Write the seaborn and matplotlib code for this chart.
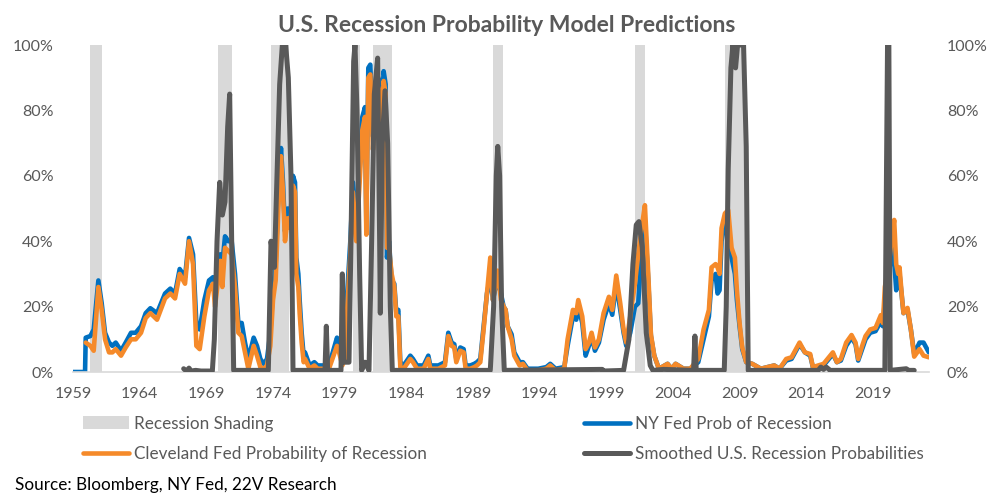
import numpy as np
import pandas as pd
import matplotlib
matplotlib.use("Agg")
import matplotlib.pyplot as plt
from matplotlib.patches import Patch
from matplotlib.lines import Line2D
from matplotlib.ticker import PercentFormatter
import seaborn as sns

# --- data (decimal years, percent) ---
years = [
    1959.0, 1959.9, 1959.95, 1960.3, 1960.55, 1960.9, 1961.15, 1961.4, 1961.7, 1961.95,
    1962.2, 1962.6, 1962.95, 1963.35, 1963.7, 1964.1, 1964.45, 1964.8, 1965.3, 1965.9,
    1966.3, 1966.65, 1967.0, 1967.4, 1967.7, 1968.0, 1968.25, 1968.5, 1968.85, 1969.2,
    1969.5, 1969.65, 1970.05, 1970.2, 1970.4, 1970.65, 1970.9, 1971.15, 1971.4, 1971.65,
    1971.9, 1972.15, 1972.55, 1972.8, 1973.05, 1973.3, 1973.55, 1973.8, 1974.0, 1974.2,
    1974.4, 1974.6, 1974.75, 1974.9, 1975.1, 1975.3, 1975.5, 1975.65, 1975.75, 1975.9,
    1976.0, 1976.15, 1976.3, 1976.4, 1976.75, 1977.1, 1977.35, 1977.8, 1978.2, 1978.8,
    1978.9, 1979.2, 1979.4, 1979.55, 1979.8, 1980.0, 1980.25, 1980.5, 1980.7, 1980.9,
    1981.0, 1981.15, 1981.3, 1981.5, 1981.7, 1981.9, 1982.1, 1982.3, 1982.45, 1982.55,
    1982.7, 1982.9, 1983.1, 1983.25, 1983.4, 1983.55, 1983.8, 1984.3, 1984.5, 1984.8,
    1985.3, 1985.65, 1985.8, 1986.4, 1986.9, 1987.15, 1987.4, 1987.6, 1987.75, 1988.05,
    1988.3, 1988.45, 1988.8, 1989.1, 1989.3, 1989.55, 1989.8, 1990.05, 1990.3, 1990.5,
    1990.7, 1990.85, 1991.1, 1991.3, 1991.45, 1991.6, 1991.9, 1992.1, 1992.5, 1992.75,
    1993.1, 1993.9, 1994.5, 1994.8, 1995.2, 1995.85, 1996.1, 1996.5, 1996.75, 1996.9,
    1997.2, 1997.45, 1997.7, 1997.9, 1998.15, 1998.45, 1998.8, 1999.2, 1999.45, 1999.75,
    2000.05, 2000.3, 2000.5, 2000.8, 2001.15, 2001.4, 2001.65, 2001.9, 2002.15, 2002.35,
    2002.6, 2002.95, 2003.6, 2003.9, 2004.2, 2004.8, 2005.3, 2005.9, 2006.3, 2006.7,
    2006.9, 2007.2, 2007.35, 2007.5, 2007.65, 2007.9, 2008.15, 2008.4, 2008.65, 2008.8,
    2009.0, 2009.2, 2009.5, 2009.95, 2010.6, 2011.1, 2011.6, 2012.0, 2012.5, 2012.9,
    2013.1, 2013.5, 2013.9, 2014.3, 2014.5, 2015.3, 2015.6, 2016.0, 2016.3, 2016.6,
    2017.0, 2017.4, 2017.7, 2017.9, 2018.2, 2018.45, 2018.8, 2019.2, 2019.6, 2019.75,
    2019.9, 2020.2, 2020.45, 2020.6, 2020.75, 2020.9, 2021.0, 2021.2, 2021.3, 2021.6,
    2021.85, 2022.1, 2022.5, 2022.8, 2023.2,
]
ny_fed = [
    0, 0, 10.5, 11, 13, 28, 21, 12, 9, 8,
    9, 6.5, 9, 12, 12, 14, 18, 19.5, 18, 24,
    25.5, 24, 31.5, 29, 41, 36, 15, 13, 22, 28,
    29, 24, 36, 33, 41.5, 40, 40, 30, 15, 15,
    9, 4, 10.5, 8, 4, 2.5, 4, 12, 25, 33,
    55, 68.5, 58, 43, 50, 47, 60, 58, 35, 30,
    22, 12, 5, 6, 2, 3, 2, 2, 2, 10.5,
    9, 4, 6, 23, 40, 58, 45, 62, 78, 81,
    45, 93, 94, 72, 86, 90, 76, 92, 88, 35,
    40, 28, 27, 18, 19, 3, 2, 5, 4, 2,
    2, 5, 2, 2, 3, 12, 9, 8.5, 4, 7.5,
    7, 2, 2, 2.5, 3, 4, 14, 24, 29, 22,
    26, 28, 24, 20, 19, 14, 11.5, 6, 3, 3,
    1, 1, 1.5, 2.5, 1, 1.5, 8, 17, 16, 20,
    15, 5, 8, 11, 6.5, 9, 16, 21, 17.5, 27,
    19, 12, 8, 12, 20, 21, 38, 46, 28, 11,
    5, 1, 2.5, 1, 2.5, 1, 1, 3, 10, 17,
    28, 30, 24, 25, 40, 46, 44, 35, 30, 22,
    14, 7, 3, 2.5, 1, 1.5, 2, 1, 3.5, 4,
    5.5, 8.5, 6, 5, 1.5, 2, 3.5, 5.5, 3, 3.5,
    8, 10.5, 8.5, 3.5, 7, 10, 12, 12.5, 15.5, 14,
    22, 30, 38, 34, 25, 27, 30, 22, 18, 19,
    13, 5.5, 9, 9, 6,
]
cleveland = [
    np.nan, np.nan, 9, 8, 6.5, 26, 19, 10, 6, 6,
    7, 5, 7.5, 10, 10, 12, 16.5, 18, 16, 22.5,
    24, 22.5, 30, 27, 40, 33, 8, 7, 17, 25,
    27, 20, 34, 26, 38, 37, 36, 26, 12, 11,
    6, 1, 8, 5, 1.5, 1, 2, 8, 22, 28,
    50, 66, 55, 40, 47, 44, 57, 55, 30, 26,
    18, 9, 3, 4, 1, 2, 1, 1, 1, 8,
    7, 2, 4, 18, 36, 55, 40, 58, 74, 78,
    42, 90, 91, 68, 83, 87, 73, 89, 85, 38,
    38, 30, 26, 17, 17, 1.5, 1, 4, 3, 1,
    1, 4, 1, 1, 2, 11, 8, 7.5, 3, 6.5,
    6, 1, 1, 1.5, 2, 3, 13, 24, 35, 22,
    27, 31, 22, 20, 19, 14, 10, 5, 2, 2.5,
    0.5, 0.5, 1, 2, 0.5, 1, 10, 19, 18, 22,
    17, 7, 9, 12, 7.5, 10, 18, 23, 19, 29.5,
    21, 13, 9, 17, 27, 36, 44, 51, 30, 11.5,
    5, 1, 2.5, 1, 2.5, 1, 1, 4, 13, 19,
    32, 33, 32, 30, 44, 48.5, 49.5, 38, 35, 25,
    15, 7.5, 3, 2.5, 1, 1.5, 2, 1, 4, 4.5,
    6, 9, 6, 5.5, 1.5, 2.5, 4, 6, 3, 4,
    9, 11.3, 9, 4, 8, 11, 13, 13.5, 17.4, 15,
    26, 33, 42, 46.5, 33, 30, 32, 22, 18, 19.6,
    13, 4.7, 7, 5, 4.5,
]

smooth_years = [
    1967.3, 1967.5, 1967.7, 1967.85, 1968.2, 1968.6, 1969.45, 1969.6, 1969.8, 1970.0,
    1970.2, 1970.4, 1970.6, 1970.75, 1970.9, 1971.05, 1973.65, 1973.85, 1974.1, 1974.3,
    1974.5, 1974.7, 1974.95, 1975.15, 1975.35, 1975.5, 1977.9, 1978.0, 1978.1, 1979.1,
    1979.2, 1979.3, 1979.7, 1979.85, 1980.05, 1980.15, 1980.3, 1980.5, 1980.65, 1980.9,
    1981.2, 1981.4, 1981.6, 1981.85, 1982.0, 1982.05, 1982.2, 1982.4, 1982.6, 1982.8,
    1982.95, 1990.3, 1990.55, 1990.75, 1990.86, 1991.0, 1991.15, 1991.35, 1998.7, 1998.8,
    2000.3, 2000.7, 2001.0, 2001.25, 2001.45, 2001.7, 2002.0, 2002.3, 2002.5, 2003.3,
    2005.55, 2005.65, 2005.75, 2007.85, 2008.0, 2008.15, 2008.35, 2008.5, 2008.7, 2008.85,
    2009.3, 2009.5, 2009.65, 2014.9, 2015.1, 2015.3, 2015.5, 2015.8, 2019.9, 2020.1,
    2020.2, 2020.3, 2021.5, 2021.7, 2022.1,
]
smoothed = [
    1, 0.3, 1.2, 0.3, 0.5, 0.3, 0.3, 10, 40, 58,
    48, 52, 75, 85, 40, 0.5, 0.5, 40, 32, 60,
    88, 100, 100, 90, 60, 0.5, 0.5, 14, 0.5, 0.5,
    30, 3, 3, 40, 95, 100, 80, 30, 0.5, 3,
    0.5, 40, 85, 96, 40, 18, 70, 86, 70, 20,
    0.5, 0.5, 20, 60, 69, 60, 20, 0.5, 0.8, 0.3,
    0.5, 10, 33, 45, 46, 38, 12, 2, 0.5, 0.8,
    0.5, 11, 0.5, 0.5, 20, 62, 93, 100, 93, 100,
    100, 69, 0.5, 0.5, 1.5, 0.8, 1.5, 0.5, 0.5, 100,
    100, 0.5, 1, 0.5, 0.5,
]

rec_start = [1960.25, 1969.9, 1973.83, 1980.0, 1981.5, 1990.5, 2001.15, 2007.9, 2020.08]
rec_end = [1961.15, 1970.9, 1975.2, 1980.55, 1982.9, 1991.25, 2001.92, 2009.5, 2020.35]

tick_years = list(range(1959, 2020, 5))

# --- style ---
sns.set_theme(style="white")
plt.rcParams["font.family"] = ["Lato", "DejaVu Sans"]

BLUE = "#0070C0"
ORANGE = "#F58A2A"
DARK = "#595959"
SHADE = "#D9D9D9"
TEXT = "#595959"

fig = plt.figure(figsize=(10.02, 4.99), dpi=100)
ax = fig.add_axes([0.0729, 0.2545, 0.8541, 0.6553])

for s, e in zip(rec_start, rec_end):
    ax.axvspan(s, e, color=SHADE, lw=0, zorder=0)

df_main = pd.DataFrame({"year": years, "ny": ny_fed, "cle": cleveland})
df_smooth = pd.DataFrame({"year": smooth_years, "val": smoothed})

sns.lineplot(data=df_main, x="year", y="ny", ax=ax, color=BLUE, lw=3.3,
             solid_capstyle="round", solid_joinstyle="round", zorder=2)
sns.lineplot(data=df_main.dropna(), x="year", y="cle", ax=ax, color=ORANGE, lw=3.3,
             solid_capstyle="round", solid_joinstyle="round", zorder=3)
sns.lineplot(data=df_smooth, x="year", y="val", ax=ax, color=DARK, lw=3.6,
             solid_capstyle="round", solid_joinstyle="round", zorder=4)

ax.set_xlim(1959, 2023.2)
ax.set_ylim(0, 100)
ax.set_xlabel("")
ax.set_ylabel("")
ax.set_xticks(tick_years)
ax.set_xticklabels([str(y) for y in tick_years])
ax.yaxis.set_major_formatter(PercentFormatter(decimals=0))
ax.set_yticks(range(0, 101, 20))

for side in ["top", "left", "right"]:
    ax.spines[side].set_visible(False)
ax.spines["bottom"].set_color(SHADE)
ax.spines["bottom"].set_linewidth(1.2)
ax.tick_params(axis="x", colors=SHADE, length=5, width=1.2, direction="out",
               labelcolor=TEXT, labelsize=11.5, pad=6)
ax.tick_params(axis="y", length=0, labelcolor=TEXT, labelsize=11.5, pad=14)

ax2 = ax.twinx()
ax2.set_ylim(0, 100)
ax2.set_yticks(range(0, 101, 20))
ax2.yaxis.set_major_formatter(PercentFormatter(decimals=0))
for side in ["top", "left", "right", "bottom"]:
    ax2.spines[side].set_visible(False)
ax2.tick_params(axis="y", length=0, labelcolor=TEXT, labelsize=11.5, pad=13)
ax2.grid(False)
ax.grid(False)

fig.text(0.506, 0.948, "U.S. Recession Probability Model Predictions", ha="center",
         va="center", fontsize=16.5, fontweight="bold", color=TEXT)

h_shade = Patch(facecolor=SHADE, edgecolor="none")
h_ny = Line2D([], [], color=BLUE, lw=3.3, solid_capstyle="round")
h_cle = Line2D([], [], color=ORANGE, lw=3.3, solid_capstyle="round")
h_sm = Line2D([], [], color=DARK, lw=3.6, solid_capstyle="round")

leg_kw = dict(frameon=False, fontsize=12.3, labelcolor=TEXT, handlelength=2.7,
              handleheight=0.75, handletextpad=0.25, labelspacing=0.85,
              borderpad=0, borderaxespad=0, loc="upper left")
fig.legend([h_shade, h_cle], ["Recession Shading", "Cleveland Fed Probability of Recession"],
           bbox_to_anchor=(0.083, 0.167), **leg_kw)
fig.legend([h_ny, h_sm], ["NY Fed Prob of Recession", "Smoothed U.S. Recession Probabilities"],
           bbox_to_anchor=(0.583, 0.167), **leg_kw)

fig.text(0.015, 0.028, "Source: Bloomberg, NY Fed, 22V Research", ha="left", va="center",
         fontsize=12.3, color="black")

fig.savefig("out.png", dpi=100)
